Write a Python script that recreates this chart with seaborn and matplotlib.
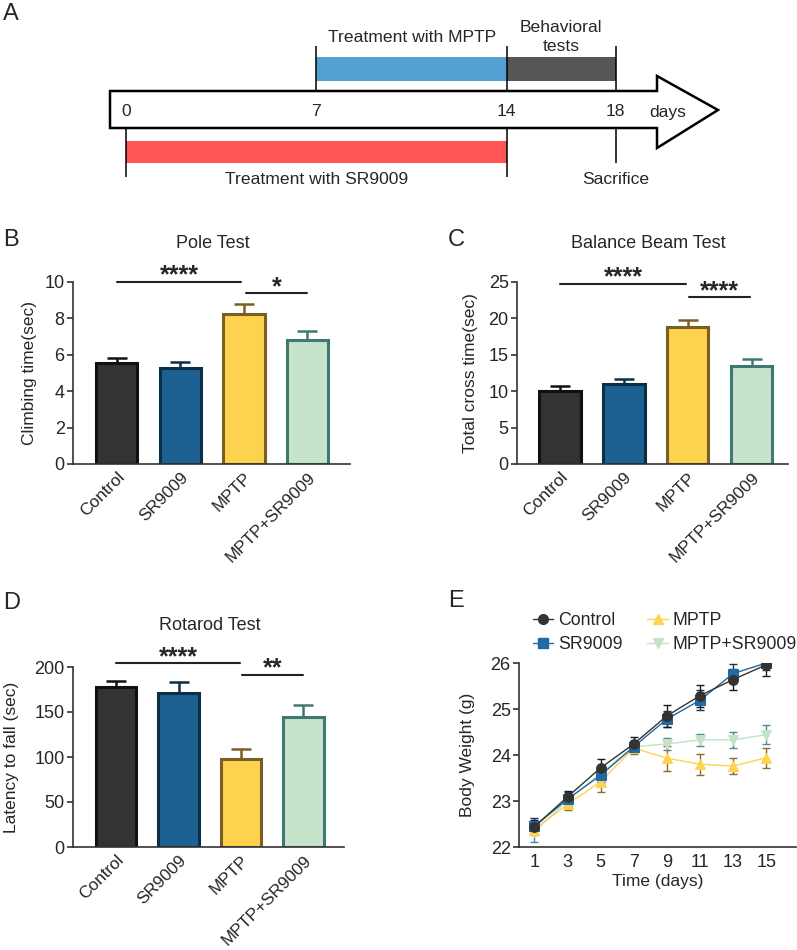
import numpy as np
import pandas as pd
import matplotlib
matplotlib.use("Agg")
import matplotlib.pyplot as plt
from matplotlib.patches import Rectangle, Polygon
from matplotlib.lines import Line2D
import seaborn as sns

# ---------------- data ----------------
groups = ["Control", "SR9009", "MPTP", "MPTP+SR9009"]

pole_mean = [5.55, 5.30, 8.25, 6.83]
pole_sem = [0.28, 0.29, 0.55, 0.49]

beam_mean = [10.0, 11.0, 18.85, 13.5]
beam_sem = [0.70, 0.70, 0.95, 0.90]

rotarod_mean = [177.5, 170.8, 98.0, 145.0]
rotarod_sem = [7.3, 12.2, 11.0, 13.0]

days = [1, 3, 5, 7, 9, 11, 13, 15]
weight_control = [22.44, 23.09, 23.72, 24.24, 24.85, 25.29, 25.64, 25.96]
sem_control = [0.15, 0.12, 0.20, 0.15, 0.24, 0.24, 0.22, 0.25]
weight_sr = [22.45, 23.04, 23.56, 24.18, 24.78, 25.19, 25.77, 26.00]
sem_sr = [0.17, 0.15, 0.15, 0.12, 0.18, 0.22, 0.20, 0.15]
weight_mptp = [22.38, 22.93, 23.42, 24.15, 23.93, 23.80, 23.76, 23.94]
sem_mptp = [0.12, 0.12, 0.22, 0.12, 0.27, 0.23, 0.18, 0.22]
weight_combo = [22.33, 23.02, 23.60, 24.18, 24.24, 24.33, 24.33, 24.44]
sem_combo = [0.22, 0.12, 0.15, 0.12, 0.13, 0.13, 0.18, 0.21]

timeline_days = [0, 7, 14, 18]
mptp_phase = (7, 14)
behavior_phase = (14, 18)
sr_phase = (0, 14)
sacrifice_day = 18

# ---------------- style ----------------
sns.set_style("ticks")
plt.rcParams["font.family"] = ["Liberation Sans", "DejaVu Sans"]
FS = 13        # ticks, titles
FS_CAT = 12.4  # rotated group names
FS_LAB = 12.5  # axis labels
FS_A = 12.6    # timeline text
FS_P = 17      # panel letters

fills = ["#333333", "#1d6192", "#fdd24f", "#c6e3cb"]
edges = ["#111111", "#0c2e46", "#7b5e24", "#3f7a72"]

W, H = 797, 950
fig = plt.figure(figsize=(W / 100, H / 100), dpi=100)


def px_axes(l, t, r, b):
    return fig.add_axes([l / W, 1 - b / H, (r - l) / W, (b - t) / H])


def ftext(x, y, s, **kw):
    fig.text(x / W, 1 - y / H, s, **kw)


# ---------------- A: timeline ----------------
axa = px_axes(0, 0, W, 200)
scale = 27.2
x0 = 126
axa.set_xlim(-x0 / scale, (W - x0) / scale)
axa.set_ylim(200, 0)
axa.axis("off")


def d(px):
    return (px - x0) / scale


body = [(d(110), 91), (d(657), 91), (d(657), 76), (d(718), 110),
        (d(657), 148), (d(657), 128), (d(110), 128)]
axa.add_patch(Polygon(body, closed=True, facecolor="white",
                      edgecolor="black", lw=1.8, zorder=2))
axa.add_patch(Rectangle((mptp_phase[0], 57), mptp_phase[1] - mptp_phase[0], 24,
                        facecolor="#55a0d3", edgecolor="none"))
axa.add_patch(Rectangle((behavior_phase[0], 57), behavior_phase[1] - behavior_phase[0], 24,
                        facecolor="#555555", edgecolor="none"))
axa.add_patch(Rectangle((sr_phase[0], 141), sr_phase[1] - sr_phase[0], 22,
                        facecolor="#ff5555", edgecolor="none"))
axa.vlines([mptp_phase[0], behavior_phase[0], behavior_phase[1]], 46, 91,
           color="black", lw=1.1)
axa.vlines([sr_phase[0], sr_phase[1]], 128, 177, color="black", lw=1.1)
axa.vlines([sacrifice_day], 128, 163, color="black", lw=1.1)
for dd in timeline_days:
    axa.text(dd, 112, str(dd), ha="center", va="center", fontsize=FS_A, zorder=3)
axa.text(sacrifice_day + 1.9, 112, "days", ha="center", va="center", fontsize=FS_A, zorder=3)
axa.text(np.mean(mptp_phase), 38, "Treatment with MPTP", ha="center", va="center", fontsize=FS_A)
axa.text(np.mean(behavior_phase), 37, "Behavioral\ntests", ha="center", va="center",
         fontsize=FS_A, linespacing=1.3)
axa.text(np.mean(sr_phase), 180, "Treatment with SR9009", ha="center", va="center", fontsize=FS_A)
axa.text(sacrifice_day, 180, "Sacrifice", ha="center", va="center", fontsize=FS_A)


# ---------------- bar panels ----------------
def style_axes(ax):
    sns.despine(ax=ax)
    for s in ["left", "bottom"]:
        ax.spines[s].set_linewidth(1.2)
        ax.spines[s].set_color("#333333")
    ax.tick_params(axis="y", labelsize=FS, length=4, width=1.2, color="#333333", pad=2)


def bar_panel(ax, means, sems, yticks, ylabel, xlim, label_x):
    df = pd.DataFrame({"group": groups, "value": means})
    sns.barplot(data=df, x="group", y="value", hue="group", palette=fills,
                saturation=1, width=0.65, legend=False, ax=ax, zorder=2)
    for p, ec in zip(ax.patches, edges):
        p.set_edgecolor(ec)
        p.set_linewidth(2.2)
    for i in range(len(groups)):
        ax.errorbar(i, means[i], yerr=[[0], [sems[i]]], fmt="none",
                    ecolor=edges[i], elinewidth=1.8, capsize=7.5, capthick=1.8, zorder=3)
    ax.set_xlim(*xlim)
    ax.set_ylim(yticks[0], yticks[-1])
    ax.set_yticks(yticks)
    ax.set_xlabel("")
    ax.set_ylabel(ylabel, fontsize=FS_LAB)
    ax.yaxis.set_label_coords(label_x, 0.5)
    ax.set_xticks(range(len(groups)))
    ax.set_xticklabels(groups, rotation=45, ha="right", va="top",
                       rotation_mode="anchor", fontsize=FS_CAT)
    style_axes(ax)
    ax.tick_params(axis="x", length=0, pad=4)


def sig(ax, x1, x2, y, text):
    ax.plot([x1, x2], [y, y], color="#222222", lw=1.5, clip_on=False)
    ax.annotate(text, ((x1 + x2) / 2, y), xytext=(0, -0.5), textcoords="offset points",
                ha="center", va="baseline", fontsize=18, fontweight="bold",
                annotation_clip=False)


# B
axb = px_axes(73, 282, 350, 464)
bar_panel(axb, pole_mean, pole_sem, [0, 2, 4, 6, 8, 10], "Climbing time(sec)",
          (-0.69, 3.67), -0.13)
sig(axb, 0, 1.96, 10.0, "****")
sig(axb, 2.04, 3.0, 9.37, "*")
ftext(213, 243, "Pole Test", ha="center", va="center", fontsize=FS)
ftext(3, 240, "B", ha="left", va="center", fontsize=FS_P)

# C
axc = px_axes(517, 282, 788, 464)
bar_panel(axc, beam_mean, beam_sem, [0, 5, 10, 15, 20, 25], "Total cross time(sec)",
          (-0.67, 3.57), -0.144)
sig(axc, 0, 1.98, 24.75, "****")
sig(axc, 2.02, 2.98, 22.9, "****")
ftext(648, 243, "Balance Beam Test", ha="center", va="center", fontsize=FS)
ftext(448, 240, "C", ha="left", va="center", fontsize=FS_P)

# D
axd = px_axes(73, 667, 344, 847)
bar_panel(axd, rotarod_mean, rotarod_sem, [0, 50, 100, 150, 200], "Latency to fall (sec)",
          (-0.69, 3.65), -0.200)
sig(axd, 0, 1.98, 204, "****")
sig(axd, 2.02, 3.0, 191, "**")
ftext(210, 626, "Rotarod Test", ha="center", va="center", fontsize=FS)
ftext(3, 603, "D", ha="left", va="center", fontsize=FS_P)

# ---------------- E: body weight ----------------
axe = px_axes(519, 663, 796, 847)
series = [
    ("MPTP+SR9009", weight_combo, sem_combo, "#c3e2c8", "#4f8a83", "v"),
    ("MPTP", weight_mptp, sem_mptp, "#fdd34f", "#8b6b2e", "^"),
    ("SR9009", weight_sr, sem_sr, "#1f6aa5", "#13395a", "s"),
    ("Control", weight_control, sem_control, "#333333", "#1a1a1a", "o"),
]
handles = {}
for name, vals, sems, col, ecol, mk in series:
    axe.errorbar(days, vals, yerr=sems, fmt="none", ecolor=ecol, elinewidth=1.0,
                 capsize=3, capthick=1.0, zorder=2)
    sns.lineplot(x=days, y=vals, color=col, marker=mk, markersize=7,
                 markeredgecolor=col, lw=1.0, ax=axe, zorder=3)
    handles[name] = Line2D([], [], color=col, marker=mk, markersize=7,
                           markeredgecolor=col, lw=1.0)
axe.set_xlim(0.07, 16.8)
axe.set_ylim(22, 26)
axe.set_yticks([22, 23, 24, 25, 26])
axe.set_xticks(days)
axe.set_xlabel("Time (days)", fontsize=FS_LAB, labelpad=2)
axe.set_ylabel("Body Weight (g)", fontsize=FS_LAB)
axe.yaxis.set_label_coords(-0.159, 0.5)
style_axes(axe)
axe.tick_params(axis="x", labelsize=FS, length=0, pad=5)
order = ["Control", "SR9009", "MPTP", "MPTP+SR9009"]
fig.legend([handles[n] for n in order], order, ncol=2, frameon=False,
           loc="upper left", bbox_to_anchor=(533 / W, 1 - 612 / H),
           fontsize=12.8, handlelength=1.15, handletextpad=0.25,
           columnspacing=1.4, labelspacing=0.4, borderpad=0, borderaxespad=0)
ftext(448, 601, "E", ha="left", va="center", fontsize=FS_P)

ftext(3, 14, "A", ha="left", va="center", fontsize=FS_P)

fig.savefig("out.png", dpi=100)
